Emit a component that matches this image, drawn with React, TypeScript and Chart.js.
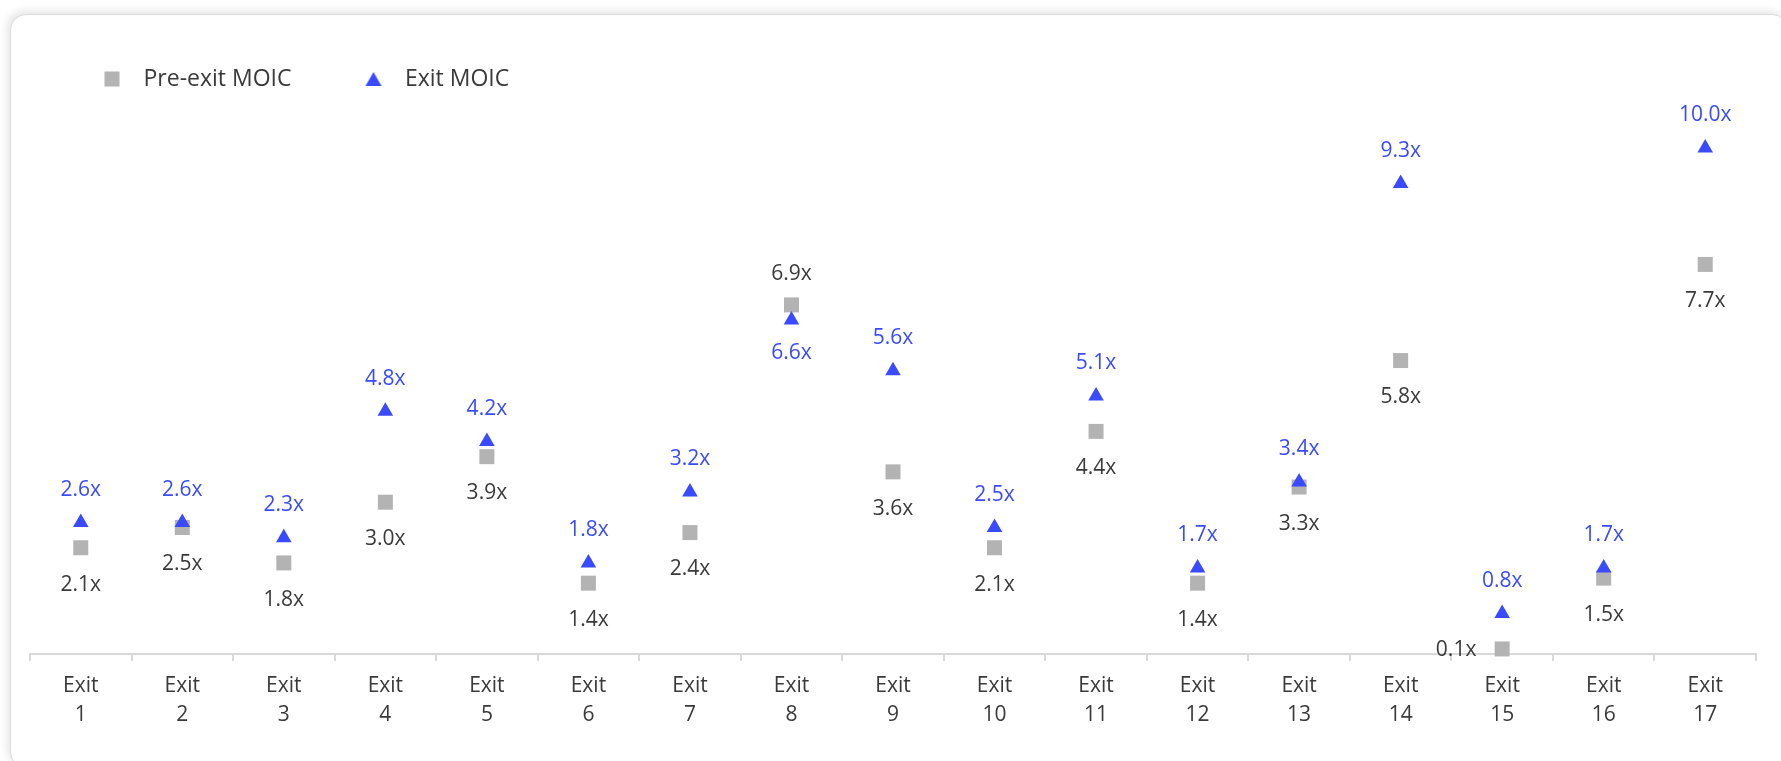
import React, { useEffect, useRef } from 'react';
import { Chart, registerables } from 'chart.js';

Chart.register(...registerables);

// ---- data ----
const categories = [
  'Exit 1', 'Exit 2', 'Exit 3', 'Exit 4', 'Exit 5', 'Exit 6', 'Exit 7', 'Exit 8', 'Exit 9',
  'Exit 10', 'Exit 11', 'Exit 12', 'Exit 13', 'Exit 14', 'Exit 15', 'Exit 16', 'Exit 17',
];
const preExitMoic = [2.1, 2.5, 1.8, 3.0, 3.9, 1.4, 2.4, 6.9, 3.6, 2.1, 4.4, 1.4, 3.3, 5.8, 0.1, 1.5, 7.7];
const exitMoic = [2.6, 2.6, 2.3, 4.8, 4.2, 1.8, 3.2, 6.6, 5.6, 2.5, 5.1, 1.7, 3.4, 9.3, 0.8, 1.7, 10.0];
const seriesNames = ['Pre-exit MOIC', 'Exit MOIC'];

// label placement per point
const preExitPlacement = ['below', 'below', 'below', 'below', 'below', 'below', 'below', 'above', 'below',
  'below', 'below', 'below', 'below', 'below', 'left', 'below', 'below'];
const exitPlacement = ['above', 'above', 'above', 'above', 'above', 'above', 'above', 'below', 'above',
  'above', 'above', 'above', 'above', 'above', 'above', 'above', 'above'];

const FONT = '"Open Sans", "Noto Sans", sans-serif';
const GRAY = '#b3b3b3';
const BLUE = '#3a4bff';
const TEXT = '#3a3a3a';

function makeSquareImg(): HTMLCanvasElement {
  const c = document.createElement('canvas');
  c.width = 40; c.height = 20;
  const g = c.getContext('2d')!;
  g.fillStyle = GRAY;
  g.fillRect(12.5, 2.5, 15, 15);
  return c;
}
function makeTriangleImg(): HTMLCanvasElement {
  const c = document.createElement('canvas');
  c.width = 40; c.height = 20;
  const g = c.getContext('2d')!;
  g.fillStyle = BLUE;
  g.beginPath();
  g.moveTo(20, 3);
  g.lineTo(28, 17);
  g.lineTo(12, 17);
  g.closePath();
  g.fill();
  return c;
}

const labelPlugin = {
  id: 'moicLabels',
  afterDatasetsDraw(chart: any) {
    const ctx = chart.ctx as CanvasRenderingContext2D;
    ctx.save();
    ctx.font = `21px ${FONT}`;
    ctx.textBaseline = 'alphabetic';
    chart.data.datasets.forEach((ds: any, di: number) => {
      const meta = chart.getDatasetMeta(di);
      const placement = di === 0 ? preExitPlacement : exitPlacement;
      const isTri = di === 1;
      ctx.fillStyle = isTri ? BLUE : TEXT;
      meta.data.forEach((el: any, i: number) => {
        const x = el.x;
        const y = el.y;
        const text = (ds.data[i] as number).toFixed(1) + 'x';
        const p = placement[i];
        if (p === 'left') {
          ctx.textAlign = 'right';
          ctx.fillText(text, x - 25.8, y + 7.5);
        } else if (p === 'above') {
          ctx.textAlign = 'center';
          ctx.fillText(text, x, y + (isTri ? -26.6 : -25.2));
        } else {
          ctx.textAlign = 'center';
          ctx.fillText(text, x, y + (isTri ? 39.3 : 42.8));
        }
      });
    });
    ctx.restore();
  },
};

export default function App() {
  const ref = useRef<HTMLCanvasElement>(null);

  useEffect(() => {
    if (!ref.current) return;
    const squareImg = makeSquareImg();
    const triImg = makeTriangleImg();
    const chart = new Chart(ref.current, {
      type: 'line',
      data: {
        labels: categories,
        datasets: [
          {
            label: seriesNames[0],
            data: preExitMoic,
            showLine: false,
            pointStyle: 'rect',
            pointRadius: 10.6,
            pointBorderWidth: 0,
            pointBackgroundColor: GRAY,
            pointBorderColor: GRAY,
            backgroundColor: GRAY,
            borderColor: GRAY,
            clip: false,
            order: 1,
          },
          {
            label: seriesNames[1],
            data: exitMoic,
            showLine: false,
            pointStyle: 'triangle',
            pointRadius: 9,
            pointBorderWidth: 0,
            pointBackgroundColor: BLUE,
            pointBorderColor: BLUE,
            backgroundColor: BLUE,
            borderColor: BLUE,
            clip: false,
            order: 0,
          },
        ],
      },
      options: {
        responsive: false,
        animation: false,
        events: [],
        layout: { padding: { left: 30, right: 25, top: 5.5, bottom: 20 } },
        plugins: {
          tooltip: { enabled: false },
          legend: {
            display: true,
            position: 'top',
            align: 'start',
            labels: {
              usePointStyle: true,
              pointStyleWidth: 40,
              boxHeight: 15,
              padding: 62,
              color: TEXT,
              font: { family: FONT, size: 23 },
              generateLabels: () => [
                { text: seriesNames[0], pointStyle: squareImg, fillStyle: GRAY, strokeStyle: GRAY, lineWidth: 0, hidden: false, datasetIndex: 0, fontColor: TEXT },
                { text: seriesNames[1], pointStyle: triImg, fillStyle: BLUE, strokeStyle: BLUE, lineWidth: 0, hidden: false, datasetIndex: 1, fontColor: TEXT },
              ] as any,
            },
          },
        },
        scales: {
          x: {
            type: 'category',
            offset: true,
            grid: {
              display: true,
              offset: true,
              drawOnChartArea: false,
              drawTicks: true,
              tickLength: 7,
              color: '#d9d9d9',
              lineWidth: 2,
            },
            border: { display: true, color: '#d9d9d9', width: 2 },
            ticks: {
              autoSkip: false,
              maxRotation: 0,
              minRotation: 0,
              padding: 11,
              color: TEXT,
              font: { family: FONT, size: 21, lineHeight: 29 / 21 },
              callback: (_v: any, i: number) => categories[i].split(' '),
            },
          },
          y: {
            display: false,
            min: 0,
            max: 10.94,
          },
        },
      },
      plugins: [labelPlugin],
    } as any);
    return () => chart.destroy();
  }, []);

  return (
    <div style={{ position: 'fixed', left: 0, top: 0, right: 0, bottom: 0, overflow: 'hidden', background: '#fff' }}>
      <div
        style={{
          position: 'absolute',
          left: 10,
          top: 14,
          width: 1776,
          height: 752,
          border: '1px solid #dcdcdc',
          borderRadius: 16,
          boxShadow: '-3px -3px 8px rgba(0,0,0,0.10)',
          background: '#fff',
        }}
      />
      <div style={{ position: 'absolute', left: 0, top: 0, width: 1781, height: 761 }}>
        <canvas ref={ref} width={1781} height={761} style={{ display: 'block' }} />
      </div>
    </div>
  );
}
